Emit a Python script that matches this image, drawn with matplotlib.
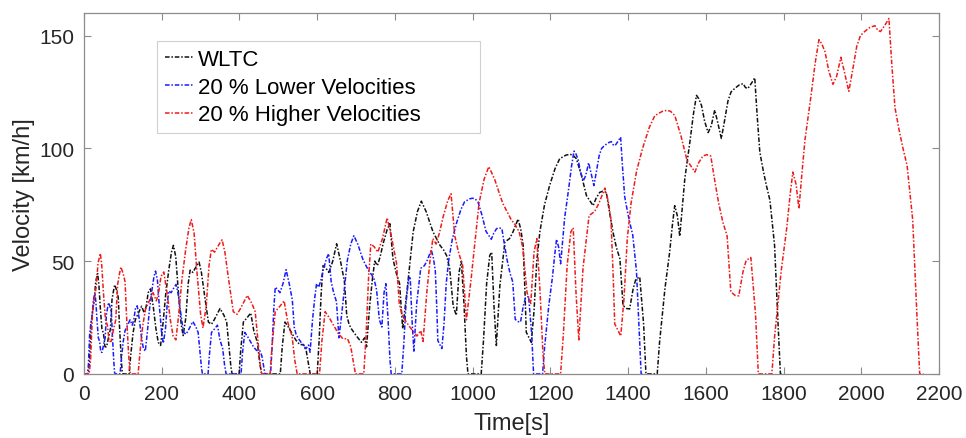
import matplotlib
matplotlib.use("Agg")
import matplotlib.pyplot as plt

# WLTC velocity profile and the two scaled cycles
time_wltc = [0, 11, 14, 18, 22, 26, 30, 35, 38, 42, 46, 50, 54, 58, 64, 68, 72, 76, 79, 84,
             88, 91, 95, 98, 100, 116, 120, 126, 132, 140, 148, 155, 160, 165, 171, 178, 185, 191, 197, 203,
             210, 218, 225, 230, 236, 242, 250, 255, 262, 268, 273, 280, 290, 296, 302, 310, 320, 328, 335, 350,
             360, 367, 372, 378, 381, 399, 403, 410, 420, 429, 437, 446, 452, 457, 505, 510, 517, 525, 535, 545,
             555, 565, 572, 578, 582, 600, 605, 610, 615, 622, 630, 640, 650, 660, 670, 676, 682, 688, 700, 714,
             722, 727, 735, 742, 748, 755, 762, 770, 780, 787, 795, 803, 812, 820, 830, 838, 847, 858, 868, 875,
             881, 890, 898, 907, 916, 925, 933, 941, 950, 958, 965, 971, 978, 984, 988, 1022, 1028, 1036, 1044, 1049,
             1055, 1061, 1070, 1083, 1095, 1104, 1117, 1124, 1130, 1135, 1138, 1151, 1158, 1165, 1173, 1185, 1198, 1212, 1224, 1240,
             1250, 1258, 1267, 1280, 1293, 1310, 1318, 1327, 1335, 1344, 1352, 1361, 1370, 1379, 1387, 1396, 1404, 1413, 1420, 1430,
             1440, 1446, 1475, 1481, 1495, 1507, 1514, 1520, 1527, 1533, 1540, 1546, 1559, 1568, 1576, 1582, 1589, 1597, 1606, 1614,
             1623, 1630, 1640, 1648, 1657, 1665, 1674, 1685, 1696, 1702, 1708, 1718, 1726, 1732, 1739, 1748, 1756, 1765, 1777, 1786,
             1792, 1800]
vel_wltc = [0, 0, 5, 22, 28, 32, 41, 44.5, 40, 29, 20, 18, 12, 12, 17, 20, 33, 37, 39.5, 37,
            34, 22, 9, 1, 0, 0, 8, 18, 24, 27, 30, 27, 30, 36, 37.7, 30, 20, 14, 12.6, 22,
            35, 46, 54, 57, 52, 38, 22, 17, 25, 40, 46, 45, 48, 49.6, 45, 35, 23, 22, 24, 29,
            26, 23, 14, 3, 0, 0, 10, 23, 25, 27, 19, 14, 5, 0, 0, 12, 23, 21, 18, 15,
            13, 13, 10, 4, 0, 0, 15, 35, 48, 47, 45, 50, 57.7, 50, 41, 26, 22, 20, 17, 14,
            16, 12, 30, 42, 50, 48, 52, 58, 64, 66.6, 51, 45, 40, 20, 35, 48, 63, 72, 76.6, 74,
            71.7, 67, 63, 60, 57, 55, 52.5, 46.6, 30, 26, 45, 50, 30, 8, 0, 0, 15, 40, 52.5, 54,
            30, 12.6, 39, 58.5, 60, 63, 68.7, 64, 57, 35, 18.5, 14, 28, 50, 63, 75, 83.5, 91, 95.4, 97,
            97.4, 97, 95.4, 88, 79, 74.6, 78, 80.5, 81, 80.5, 72, 63, 56, 51, 30.3, 29, 28.8, 37.7, 42, 43,
            22, 0, 0, 14, 38, 54, 66, 74.6, 70, 61, 75, 86.5, 102.8, 115, 123.5, 122, 119, 112, 107, 110,
            117, 112, 104.4, 112, 121, 125, 126.5, 128, 128.7, 127, 126.5, 129, 131.3, 115, 98.4, 90, 83.5, 77, 57, 22,
            0, 0]

time_low = [0, 8.8, 11.2, 14.4, 17.6, 20.8, 24, 28, 30.4, 33.6, 36.8, 40, 43.2, 46.4, 51.2, 54.4, 57.6, 60.8, 63.2, 67.2,
            70.4, 72.8, 76, 78.4, 80, 92.8, 96, 100.8, 105.6, 112, 118.4, 124, 128, 132, 136.8, 142.4, 148, 152.8, 157.6, 162.4,
            168, 174.4, 180, 184, 188.8, 193.6, 200, 204, 209.6, 214.4, 218.4, 224, 232, 236.8, 241.6, 248, 256, 262.4, 268, 280,
            288, 293.6, 297.6, 302.4, 304.8, 319.2, 322.4, 328, 336, 343.2, 349.6, 356.8, 361.6, 365.6, 404, 408, 413.6, 420, 428, 436,
            444, 452, 457.6, 462.4, 465.6, 480, 484, 488, 492, 497.6, 504, 512, 520, 528, 536, 540.8, 545.6, 550.4, 560, 571.2,
            577.6, 581.6, 588, 593.6, 598.4, 604, 609.6, 616, 624, 629.6, 636, 642.4, 649.6, 656, 664, 670.4, 677.6, 686.4, 694.4, 700,
            704.8, 712, 718.4, 725.6, 732.8, 740, 746.4, 752.8, 760, 766.4, 772, 776.8, 782.4, 787.2, 790.4, 817.6, 822.4, 828.8, 835.2, 839.2,
            844, 848.8, 856, 866.4, 876, 883.2, 893.6, 899.2, 904, 908, 910.4, 920.8, 926.4, 932, 938.4, 948, 958.4, 969.6, 979.2, 992,
            1000, 1006.4, 1013.6, 1024, 1034.4, 1048, 1054.4, 1061.6, 1068, 1075.2, 1081.6, 1088.8, 1096, 1103.2, 1109.6, 1116.8, 1123.2, 1130.4, 1136, 1144,
            1152, 1156.8, 1180, 1184.8, 1196, 1205.6, 1211.2, 1216, 1221.6, 1226.4, 1232, 1236.8, 1247.2, 1254.4, 1260.8, 1265.6, 1271.2, 1277.6, 1284.8, 1291.2,
            1298.4, 1304, 1312, 1318.4, 1325.6, 1332, 1339.2, 1348, 1356.8, 1361.6, 1366.4, 1374.4, 1380.8, 1385.6, 1391.2, 1398.4, 1404.8, 1412, 1421.6, 1428.8,
            1433.6, 1440]
vel_low = [0, 0, 4, 17.6, 22.4, 25.6, 32.8, 35.6, 32, 23.2, 16, 14.4, 9.6, 9.6, 13.6, 16, 26.4, 29.6, 31.6, 29.6,
           27.2, 17.6, 7.2, 0.8, 0, 0, 6.4, 14.4, 19.2, 21.6, 24, 21.6, 24, 28.8, 30.2, 24, 16, 11.2, 10.1, 17.6,
           28, 36.8, 43.2, 45.6, 41.6, 30.4, 17.6, 13.6, 20, 32, 36.8, 36, 38.4, 39.7, 36, 28, 18.4, 17.6, 19.2, 23.2,
           20.8, 18.4, 11.2, 2.4, 0, 0, 8, 18.4, 20, 21.6, 15.2, 11.2, 4, 0, 0, 9.6, 18.4, 16.8, 14.4, 12,
           10.4, 10.4, 8, 3.2, 0, 0, 12, 28, 38.4, 37.6, 36, 40, 46.2, 40, 32.8, 20.8, 17.6, 16, 13.6, 11.2,
           12.8, 9.6, 24, 33.6, 40, 38.4, 41.6, 46.4, 51.2, 53.3, 40.8, 36, 32, 16, 28, 38.4, 50.4, 57.6, 61.3, 59.2,
           57.4, 53.6, 50.4, 48, 45.6, 44, 42, 37.3, 24, 20.8, 36, 40, 24, 6.4, 0, 0, 12, 32, 42, 43.2,
           24, 10.1, 31.2, 46.8, 48, 50.4, 55, 51.2, 45.6, 28, 14.8, 11.2, 22.4, 40, 50.4, 60, 66.8, 72.8, 76.3, 77.6,
           77.9, 77.6, 76.3, 70.4, 63.2, 59.7, 62.4, 64.4, 64.8, 64.4, 57.6, 50.4, 44.8, 40.8, 24.2, 23.2, 23, 30.2, 33.6, 34.4,
           17.6, 0, 0, 11.2, 30.4, 43.2, 52.8, 59.7, 56, 48.8, 60, 69.2, 82.2, 92, 98.8, 97.6, 95.2, 89.6, 85.6, 88,
           93.6, 89.6, 83.5, 89.6, 96.8, 100, 101.2, 102.4, 103, 101.6, 101.2, 103.2, 105, 92, 78.7, 72, 66.8, 61.6, 45.6, 17.6,
           0, 0]

time_high = [0, 13.2, 16.8, 21.6, 26.4, 31.2, 36, 42, 45.6, 50.4, 55.2, 60, 64.8, 69.6, 76.8, 81.6, 86.4, 91.2, 94.8, 100.8,
             105.6, 109.2, 114, 117.6, 120, 139.2, 144, 151.2, 158.4, 168, 177.6, 186, 192, 198, 205.2, 213.6, 222, 229.2, 236.4, 243.6,
             252, 261.6, 270, 276, 283.2, 290.4, 300, 306, 314.4, 321.6, 327.6, 336, 348, 355.2, 362.4, 372, 384, 393.6, 402, 420,
             432, 440.4, 446.4, 453.6, 457.2, 478.8, 483.6, 492, 504, 514.8, 524.4, 535.2, 542.4, 548.4, 606, 612, 620.4, 630, 642, 654,
             666, 678, 686.4, 693.6, 698.4, 720, 726, 732, 738, 746.4, 756, 768, 780, 792, 804, 811.2, 818.4, 825.6, 840, 856.8,
             866.4, 872.4, 882, 890.4, 897.6, 906, 914.4, 924, 936, 944.4, 954, 963.6, 974.4, 984, 996, 1005.6, 1016.4, 1029.6, 1041.6, 1050,
             1057.2, 1068, 1077.6, 1088.4, 1099.2, 1110, 1119.6, 1129.2, 1140, 1149.6, 1158, 1165.2, 1173.6, 1180.8, 1185.6, 1226.4, 1233.6, 1243.2, 1252.8, 1258.8,
             1266, 1273.2, 1284, 1299.6, 1314, 1324.8, 1340.4, 1348.8, 1356, 1362, 1365.6, 1381.2, 1389.6, 1398, 1407.6, 1422, 1437.6, 1454.4, 1468.8, 1488,
             1500, 1509.6, 1520.4, 1536, 1551.6, 1572, 1581.6, 1592.4, 1602, 1612.8, 1622.4, 1633.2, 1644, 1654.8, 1664.4, 1675.2, 1684.8, 1695.6, 1704, 1716,
             1728, 1735.2, 1770, 1777.2, 1794, 1808.4, 1816.8, 1824, 1832.4, 1839.6, 1848, 1855.2, 1870.8, 1881.6, 1891.2, 1898.4, 1906.8, 1916.4, 1927.2, 1936.8,
             1947.6, 1956, 1968, 1977.6, 1988.4, 1998, 2008.8, 2022, 2035.2, 2042.4, 2049.6, 2061.6, 2071.2, 2078.4, 2086.8, 2097.6, 2107.2, 2118, 2132.4, 2143.2,
             2150.4, 2160]
vel_high = [0, 0, 6, 26.4, 33.6, 38.4, 49.2, 53.4, 48, 34.8, 24, 21.6, 14.4, 14.4, 20.4, 24, 39.6, 44.4, 47.4, 44.4,
            40.8, 26.4, 10.8, 1.2, 0, 0, 9.6, 21.6, 28.8, 32.4, 36, 32.4, 36, 43.2, 45.2, 36, 24, 16.8, 15.1, 26.4,
            42, 55.2, 64.8, 68.4, 62.4, 45.6, 26.4, 20.4, 30, 48, 55.2, 54, 57.6, 59.5, 54, 42, 27.6, 26.4, 28.8, 34.8,
            31.2, 27.6, 16.8, 3.6, 0, 0, 12, 27.6, 30, 32.4, 22.8, 16.8, 6, 0, 0, 14.4, 27.6, 25.2, 21.6, 18,
            15.6, 15.6, 12, 4.8, 0, 0, 18, 42, 57.6, 56.4, 54, 60, 69.2, 60, 49.2, 31.2, 26.4, 24, 20.4, 16.8,
            19.2, 14.4, 36, 50.4, 60, 57.6, 62.4, 69.6, 76.8, 79.9, 61.2, 54, 48, 24, 42, 57.6, 75.6, 86.4, 91.9, 88.8,
            86, 80.4, 75.6, 72, 68.4, 66, 63, 55.9, 36, 31.2, 54, 60, 36, 9.6, 0, 0, 18, 48, 63, 64.8,
            36, 15.1, 46.8, 70.2, 72, 75.6, 82.4, 76.8, 68.4, 42, 22.2, 16.8, 33.6, 60, 75.6, 90, 100.2, 109.2, 114.5, 116.4,
            116.9, 116.4, 114.5, 105.6, 94.8, 89.5, 93.6, 96.6, 97.2, 96.6, 86.4, 75.6, 67.2, 61.2, 36.4, 34.8, 34.6, 45.2, 50.4, 51.6,
            26.4, 0, 0, 16.8, 45.6, 64.8, 79.2, 89.5, 84, 73.2, 90, 103.8, 123.4, 138, 148.2, 146.4, 142.8, 134.4, 128.4, 132,
            140.4, 134.4, 125.3, 134.4, 145.2, 150, 151.8, 153.6, 154.4, 152.4, 151.8, 154.8, 157.6, 138, 118.1, 108, 100.2, 92.4, 68.4, 26.4,
            0, 0]

series_labels = ["WLTC", "20 % Lower Velocities", "20 % Higher Velocities"]
x_ticks = [0, 200, 400, 600, 800, 1000, 1200, 1400, 1600, 1800, 2000, 2200]
y_ticks = [0, 50, 100, 150]

plt.rcParams['font.family'] = ['Liberation Sans', 'DejaVu Sans']

fig = plt.figure(figsize=(9.66, 4.39), dpi=100)
ax = fig.add_axes([0.087, 0.146, 0.885, 0.822])

dash = (3, 1.2, 1, 1.2)
ax.plot(time_wltc, vel_wltc, color='#111111', lw=1.1, dashes=dash, label=series_labels[0])
ax.plot(time_low, vel_low, color='#1a1aff', lw=1.1, dashes=dash, label=series_labels[1])
ax.plot(time_high, vel_high, color='#ee1c1c', lw=1.1, dashes=dash, label=series_labels[2])

ax.set_xlim(0, 2200)
ax.set_ylim(0, 160)
ax.set_xticks(x_ticks)
ax.set_yticks(y_ticks)

# matlab style box with inward ticks on all sides
for sp in ax.spines.values():
    sp.set_color('#8c8c8c')
    sp.set_linewidth(0.9)
ax.tick_params(direction='in', length=5, width=0.8, color='#8c8c8c',
               top=True, right=True, labelsize=15, labelcolor='#262626', pad=7)

ax.set_xlabel("Time[s]", fontsize=17, color='#262626', labelpad=7)
ax.set_ylabel("Velocity [km/h]", fontsize=17, color='#262626', labelpad=3)

# legend box stretched to the width of the matlab one
leg = ax.legend(loc='upper left', bbox_to_anchor=(0.0854, 0.676, 0.378, 0.246), mode='expand',
                fontsize=16, handlelength=1.3, handletextpad=0.2, labelspacing=0.3,
                borderpad=0.35, borderaxespad=0, fancybox=False, framealpha=1)
leg.get_frame().set_edgecolor('#d0d0d0')
leg.get_frame().set_linewidth(0.8)

fig.savefig("out.png", dpi=100)
plt.close()
